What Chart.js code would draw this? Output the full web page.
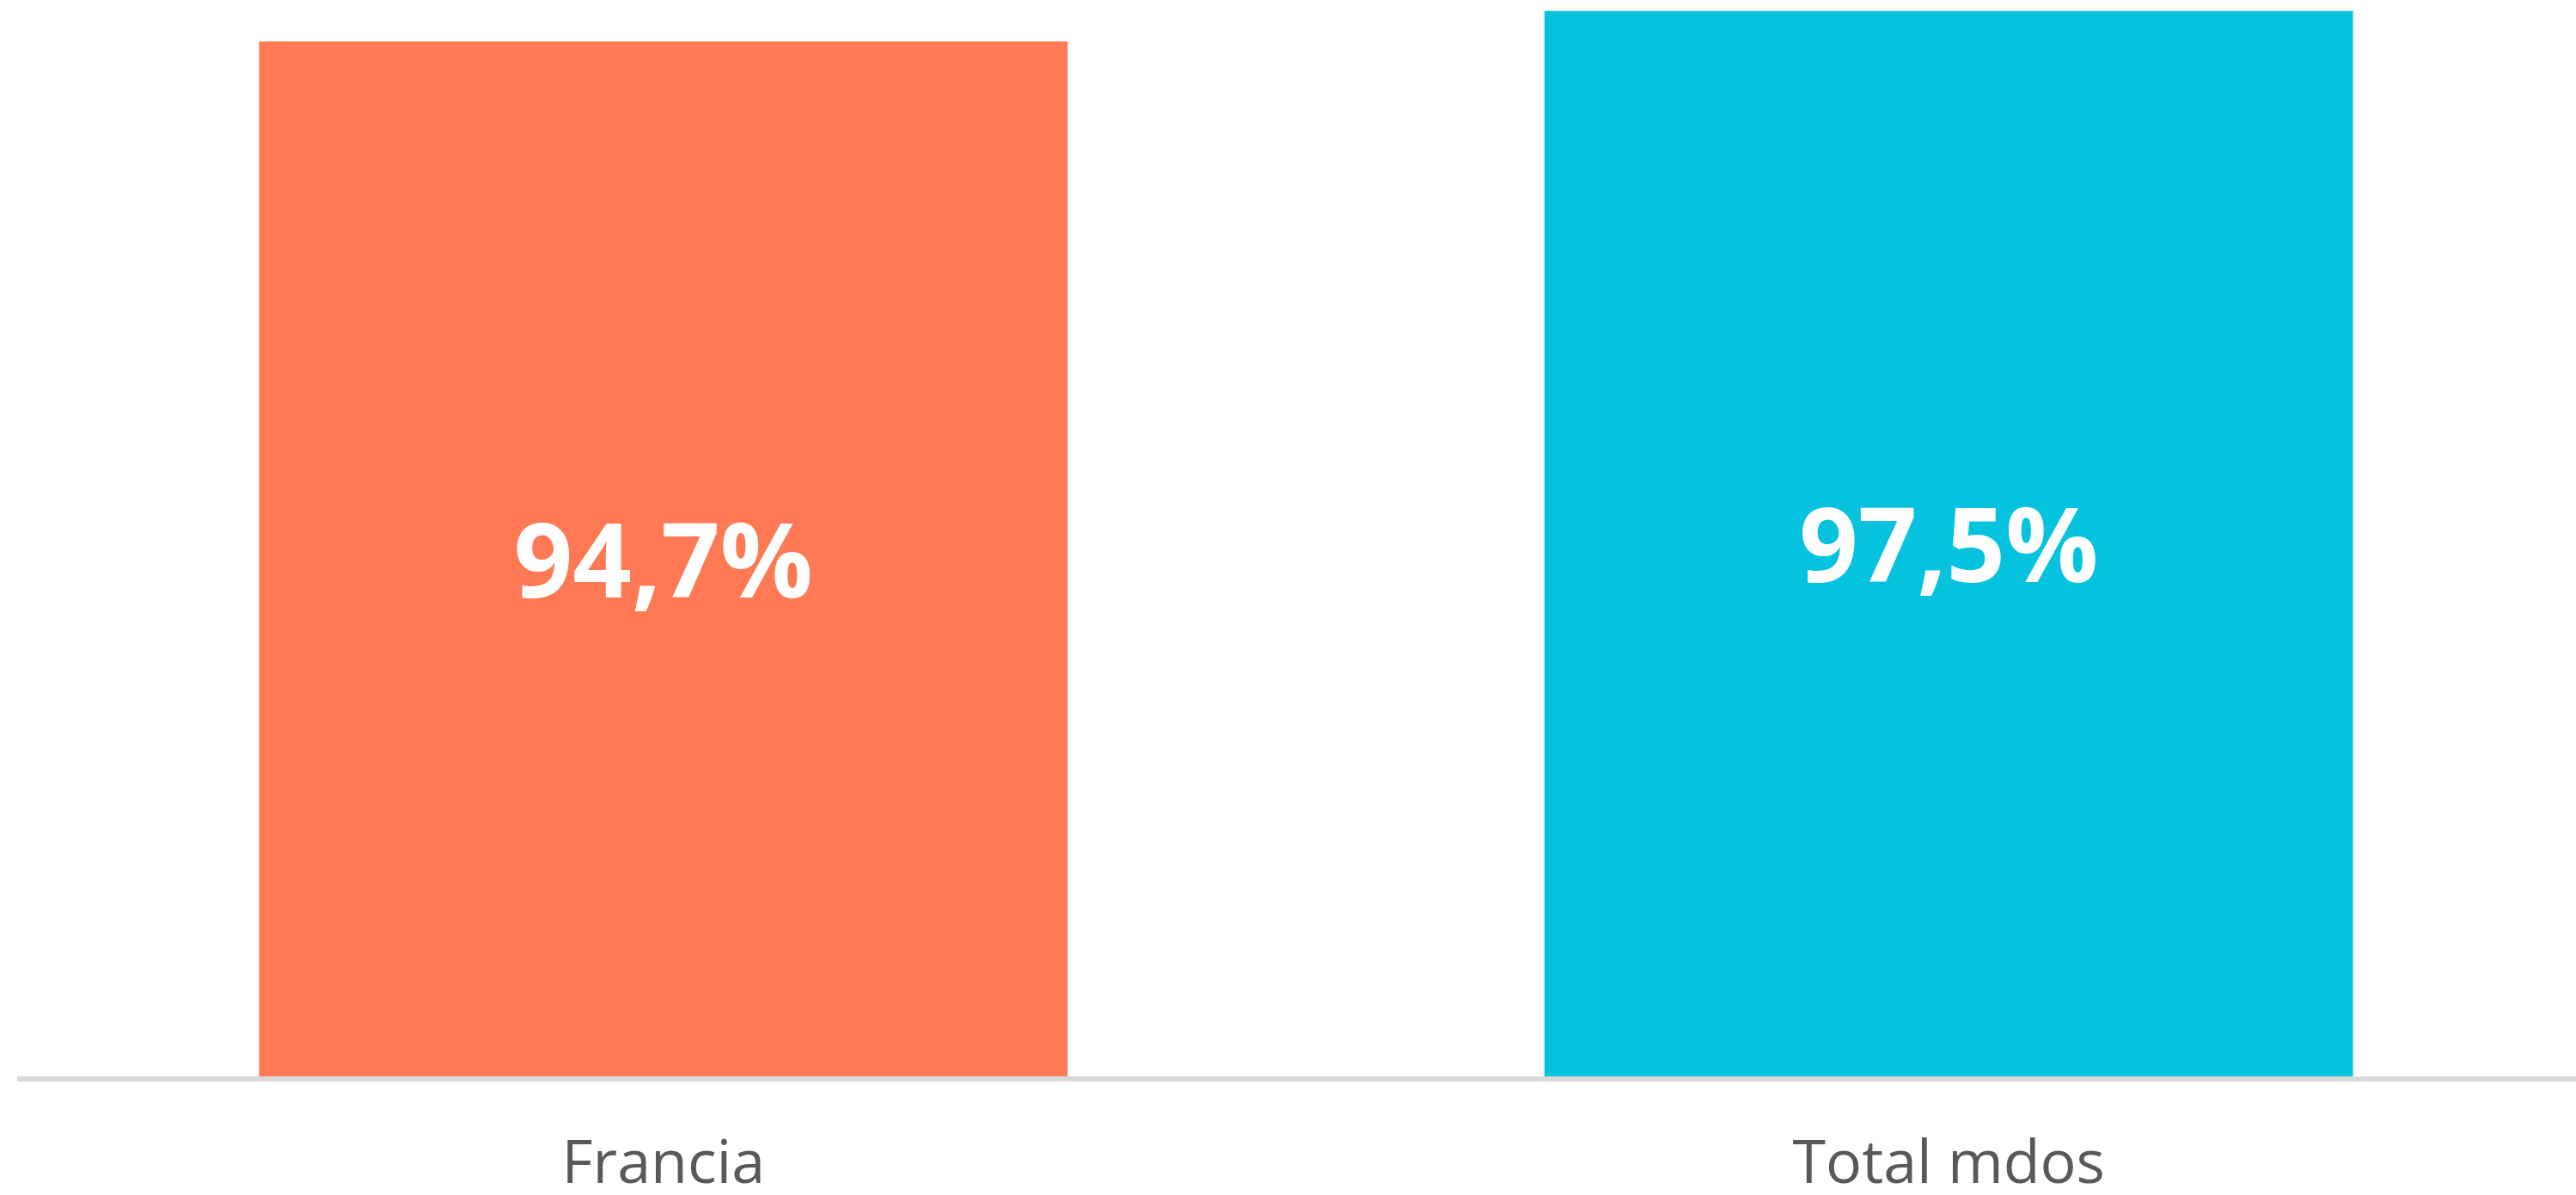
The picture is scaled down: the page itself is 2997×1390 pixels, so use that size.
<!DOCTYPE html>
<html>
<head>
<meta charset="utf-8">
<script src="https://cdn.jsdelivr.net/npm/chart.js@4.4.1/dist/chart.umd.min.js"></script>
<style>
  html,body{margin:0;padding:0;background:#fff;overflow:hidden;}
  #wrap{position:relative;width:3015px;height:1390px;}
</style>
</head>
<body>
<div id="wrap"><canvas id="chart"></canvas></div>
<script>
// ── Datos ─────────────────────────────────────────
const categorias = ['Francia', 'Total mdos'];
const valores    = [94.7, 97.5];
const colores    = ['#FF7A54', '#05C3DE'];

const fmtPct = v => v.toFixed(1).replace('.', ',') + '%';

// etiquetas blancas centradas en cada barra
const etiquetasBarra = {
  id: 'etiquetasBarra',
  afterDatasetsDraw(chart) {
    const ctx = chart.ctx;
    const meta = chart.getDatasetMeta(0);
    ctx.save();
    ctx.fillStyle = '#fff';
    ctx.font = 'bold 120px "Open Sans", sans-serif';
    ctx.textAlign = 'center';
    ctx.textBaseline = 'alphabetic';
    meta.data.forEach((bar, i) => {
      const mid = (bar.y + bar.base) / 2;
      ctx.fillText(fmtPct(valores[i]), bar.x, mid + 45);
    });
    ctx.restore();
  }
};

// línea base gris, por debajo de las barras
const lineaBase = {
  id: 'lineaBase',
  afterDatasetsDraw(chart) {
    const { ctx, chartArea, scales } = chart;
    ctx.save();
    ctx.fillStyle = '#d9d9d9';
    ctx.fillRect(scales.x.left - 4, chartArea.bottom, scales.x.right - scales.x.left + 4, 6);
    ctx.restore();
  }
};

new Chart(document.getElementById('chart'), {
  type: 'bar',
  data: {
    labels: categorias,
    datasets: [{ data: valores, backgroundColor: colores, borderWidth: 0 }]
  },
  options: {
    responsive: true, maintainAspectRatio: false,
    animation: false,
    layout: { padding: { left: 24, right: 0, top: 0, bottom: 0 } },
    plugins: { legend: { display: false }, tooltip: { enabled: false } },
    datasets: { bar: { barPercentage: 0.629, categoryPercentage: 1 } },
    scales: {
      x: {
        grid: { display: false, drawTicks: false },
        border: { display: false },
        ticks: { color: '#595959', padding: 62, font: { family: '"Open Sans", sans-serif', size: 70 } },
        afterFit: s => { s.height = 138; }
      },
      y: { display: false, min: 0, max: 98.5 }
    }
  },
  plugins: [etiquetasBarra, lineaBase]
});
</script>
</body>
</html>
